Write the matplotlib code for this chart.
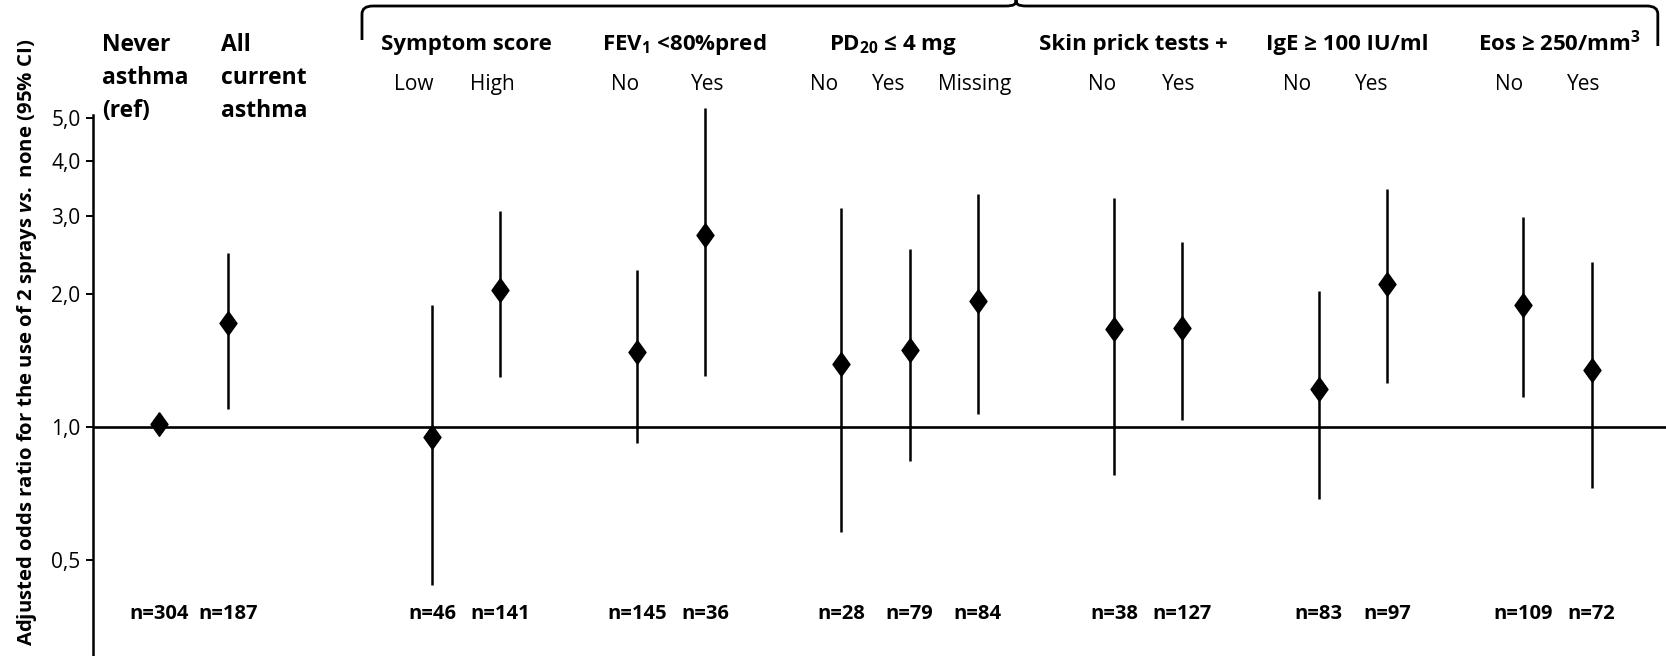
import matplotlib
matplotlib.use("Agg")
import matplotlib.pyplot as plt
import numpy as np
from matplotlib.path import Path
from matplotlib.patches import PathPatch
import matplotlib.transforms as mtransforms

plt.rcParams['font.family'] = ['Open Sans', 'DejaVu Sans']
plt.rcParams['mathtext.fontset'] = 'custom'
plt.rcParams['mathtext.it'] = 'Open Sans:italic:bold'
plt.rcParams['mathtext.rm'] = 'Open Sans:bold'
plt.rcParams['mathtext.bf'] = 'Open Sans:bold'
plt.rcParams['mathtext.fallback'] = 'stixsans'

# ---------------- data ----------------
slots = [0, 1, 4, 5, 7, 8, 10, 11, 12, 14, 15, 17, 18, 20, 21]
odds_ratio = [1.02, 1.72, 0.95, 2.05, 1.48, 2.72, 1.39, 1.50, 1.93, 1.67, 1.68, 1.22, 2.11, 1.89, 1.35]
ci_low = [np.nan, 1.10, 0.44, 1.30, 0.92, 1.31, 0.58, 0.84, 1.07, 0.78, 1.04, 0.69, 1.26, 1.17, 0.73]
ci_high = [np.nan, 2.48, 1.89, 3.09, 2.27, 5.29, 3.14, 2.53, 3.38, 3.31, 2.62, 2.04, 3.47, 2.99, 2.37]
sub_labels = ["", "", "Low", "High", "No", "Yes", "No", "Yes", "Missing",
              "No", "Yes", "No", "Yes", "No", "Yes"]
n_labels = ["n=304", "n=187", "n=46", "n=141", "n=145", "n=36", "n=28", "n=79", "n=84",
            "n=38", "n=127", "n=83", "n=97", "n=109", "n=72"]
top_labels = ["Never\nasthma\n(ref)", "All\ncurrent\nasthma"]
group_headers = ["Symptom score", "FEV$_1$ <80%pred", "PD$_{20}$ ≤ 4 mg",
                 "Skin prick tests +", "IgE ≥ 100 IU/ml", "Eos ≥ 250/mm$^3$"]
ytick_vals = [0.5, 1.0, 2.0, 3.0, 4.0, 5.0]
ytick_labels = ["0,5", "1,0", "2,0", "3,0", "4,0", "5,0"]
ylabel = "Adjusted odds ratio for the use of 2 sprays $\\mathit{vs.}$ none (95% CI)"

# ---------------- layout ----------------
W, H = 1666, 656
fig = plt.figure(figsize=(W / 100, H / 100), dpi=100)
ax_left, ax_top, ax_bottom = 93, 115, 656
ax = fig.add_axes([ax_left / W, 1 - ax_bottom / H, (W - ax_left) / W, (ax_bottom - ax_top) / H])
ax.set_yscale('log')
ax.set_ylim(0.304, 5.09)
ax.set_xlim(-0.974, 22.09)

for s in ['top', 'right', 'bottom']:
    ax.spines[s].set_visible(False)
ax.spines['left'].set_linewidth(1.8)
ax.axhline(1.0, color='black', lw=1.9, zorder=1)

ax.yaxis.set_major_locator(matplotlib.ticker.FixedLocator(ytick_vals))
ax.yaxis.set_minor_locator(matplotlib.ticker.NullLocator())
ax.set_yticklabels(ytick_labels)
ax.tick_params(axis='y', direction='out', length=5, width=1.4, pad=4, labelsize=15)
ax.set_xticks([])

# error bars
for x, lo, hi in zip(slots, ci_low, ci_high):
    if not np.isnan(lo):
        ax.plot([x, x], [lo, hi], color='black', lw=1.8, solid_capstyle='butt',
                clip_on=False, zorder=2)

diamond = [(0, 1), (0.72, 0), (0, -1), (-0.72, 0), (0, 1)]
ax.plot(slots, odds_ratio, linestyle='none', marker=diamond, markersize=17,
        color='black', zorder=3, clip_on=False)

# n labels
ntrans = mtransforms.blended_transform_factory(ax.transData, fig.transFigure)
for x, lab in zip(slots, n_labels):
    ax.text(x, 1 - 614 / H, lab, transform=ntrans, ha='center', va='center',
            fontsize=14.5, fontweight='bold')

# top-left labels
px = 68.2  # px per slot
top_dx = [-0.84, -0.09]
for i, lab in enumerate(top_labels):
    x_left = slots[i] + top_dx[i]
    for j, line in enumerate(lab.split("\n")):
        ax.text(x_left, 1 - (51 + 33 * j) / H, line, transform=ntrans,
                ha='left', va='baseline', fontsize=16.5, fontweight='bold',
                clip_on=False)

# group headers
header_x = [4.5, 7.69, 10.75, 14.28, 17.41, 20.53]
for x, lab in zip(header_x, group_headers):
    ax.text(x, 1 - 50 / H, lab, transform=ntrans, ha='center', va='baseline',
            fontsize=16, fontweight='bold')

# sub labels
sub_dx = [0, 0, -18, -8.5, -12, 3, -17, -20.5, -3, -12, -4, -22, -15, -14, -8]
for x, lab, dx in zip(slots, sub_labels, sub_dx):
    if lab:
        ax.text(x + dx / px, 1 - 90 / H, lab, transform=ntrans, ha='center',
                va='baseline', fontsize=15)

# brace
def brace(xl, xm, xr, y_line, y_peak, y_end_l, y_end_r, r=0.16):
    f = lambda y: 1 - y / H
    verts = [
        (xl, f(y_end_l)), (xl, f(y_line + 8)),
        (xl, f(y_line)), (xl + r, f(y_line)),
        (xm - r, f(y_line)),
        (xm - 0.02, f(y_line)), (xm, f(y_line - 2)), (xm, f(y_peak)),
        (xm, f(y_line - 2)), (xm + 0.02, f(y_line)), (xm + r, f(y_line)),
        (xr - r, f(y_line)),
        (xr, f(y_line)), (xr, f(y_line + 8)),
        (xr, f(y_end_r)),
    ]
    codes = [Path.MOVETO, Path.LINETO,
             Path.CURVE3, Path.CURVE3,
             Path.LINETO,
             Path.CURVE4, Path.CURVE4, Path.CURVE4,
             Path.CURVE4, Path.CURVE4, Path.CURVE4,
             Path.LINETO,
             Path.CURVE3, Path.CURVE3,
             Path.LINETO]
    p = PathPatch(Path(verts, codes), transform=ntrans, fill=False, lw=2.0,
                  edgecolor='black', clip_on=False)
    ax.add_patch(p)

brace(2.97, 12.56, 21.97, 6, 0, 40, 46)

# y label
fig.text(27 / W, 1 - 342 / H, ylabel, rotation=90, ha='center', va='center',
         fontsize=14.7, fontweight='bold')

fig.savefig("out.png", dpi=100)
